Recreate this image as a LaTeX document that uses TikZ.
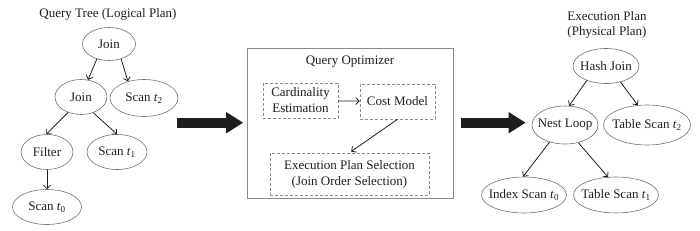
\documentclass[tikz,border=0pt]{standalone}
\usepackage{fontspec}
\setmainfont{Liberation Serif}
\usetikzlibrary{positioning, shapes.geometric, arrows.meta}
\definecolor{ink}{HTML}{1E1E1E}
\definecolor{rim}{HTML}{707070}
\definecolor{frame}{HTML}{8A8A8A}
\newcommand{\tbl}[1]{\textit{t}\textsubscript{#1}}

\begin{document}
\begin{tikzpicture}[
    x=1pt, y=-1pt,
    font=\fontsize{13}{15}\selectfont,
    % Node styles
    plan node/.style={
        ellipse,
        draw=rim,
        line width=0.6pt,
        inner xsep=-6pt,
        inner ysep=0pt,
        minimum height=35pt,
        text=ink
    },
    dash box/.style={
        rectangle,
        draw=frame,
        line width=0.6pt,
        dash pattern=on 3pt off 2pt,
        align=center,
        inner sep=0pt,
        font=\fontsize{13}{16}\selectfont,
        text=ink
    },
    optimizer box/.style={
        rectangle,
        draw=frame,
        line width=0.6pt,
        minimum width=206pt,
        minimum height=150pt
    },
    flow/.style={
        draw=ink,
        line width=0.8pt,
        -{Straight Barb[length=3.5pt,width=7pt]}
    },
    big arrow/.style={
        draw=ink,
        line width=10pt,
        -{Triangle[length=17pt,width=20pt]}
    },
    title label/.style={
        align=center,
        text=ink
    }
]

\useasboundingbox (0,0) rectangle (700,230);

% Logical plan
\node[title label] (qt-title) at (108,14) {Query Tree (Logical Plan)};
\node[plan node, minimum width=53pt, minimum height=33pt] (j1) at (109,44) {Join};
\node[plan node, minimum width=52pt] (j2) at (81,97) {Join};
\node[plan node, minimum width=68pt, minimum height=37pt] (s2) at (144,98) {Scan \tbl{2}};
\node[plan node, minimum width=52pt] (filt) at (47,152) {Filter};
\node[plan node, minimum width=60pt] (s1) at (117,152) {Scan \tbl{1}};
\node[plan node, minimum width=69pt] (s0) at (47,207) {Scan \tbl{0}};

\draw[flow] (j1.231) -- (j2.68);
\draw[flow] (j1.309) -- (s2.134);
\draw[flow] (j2.230) -- (filt.92);
\draw[flow] (j2.308) -- (s1.north);
\draw[flow] (filt.south) -- (s0.north);

% Optimizer
\node[optimizer box] (opt) at (350,123) {};
\node[text=ink] (opt-title) at (350,62) {Query Optimizer};
\node[dash box, minimum width=75pt, minimum height=35pt] (card) at (300.5,100.5) {Cardinality\\Estimation};
\node[dash box, minimum width=75pt, minimum height=35pt] (cost) at (397.5,101.5) {Cost Model};
\node[dash box, minimum width=159pt, minimum height=42pt] (exec) at (349.5,174) {Execution Plan Selection\\(Join Order Selection)};

\draw[flow] (card) -- (cost);
\draw[flow, shorten >=2pt] (cost.south) -- (exec.north);

% Physical plan
\node[title label] (ep-title) at (607,24.5) {Execution Plan\\(Physical Plan)};
\node[plan node, minimum width=66pt] (hash) at (606,66) {Hash Join};
\node[plan node, minimum width=66pt, minimum height=38pt] (nest) at (565,125) {Nest Loop};
\node[plan node, minimum width=87pt, minimum height=40pt] (ts2) at (647,125) {Table Scan \tbl{2}};
\node[plan node, minimum width=85pt, minimum height=36pt] (idx) at (524,195) {Index Scan \tbl{0}};
\node[plan node, minimum width=85pt, minimum height=36pt] (ts1) at (616,195) {Table Scan \tbl{1}};

\draw[flow] (hash.217) -- (nest.78);
\draw[flow] (hash.312) -- (ts2.115);
\draw[flow] (nest.228) -- (idx.93);
\draw[flow] (nest.307) -- (ts1.114);

% Stage arrows
\coordinate (qt-out) at (177,122.7);
\draw[big arrow, shorten >=3.5pt] (qt-out) -- (qt-out -| opt.west);
\draw[big arrow, shorten <=8pt, shorten >=6pt] (opt.east |- qt-out) -- (qt-out -| nest.west);

\end{tikzpicture}
\end{document}
